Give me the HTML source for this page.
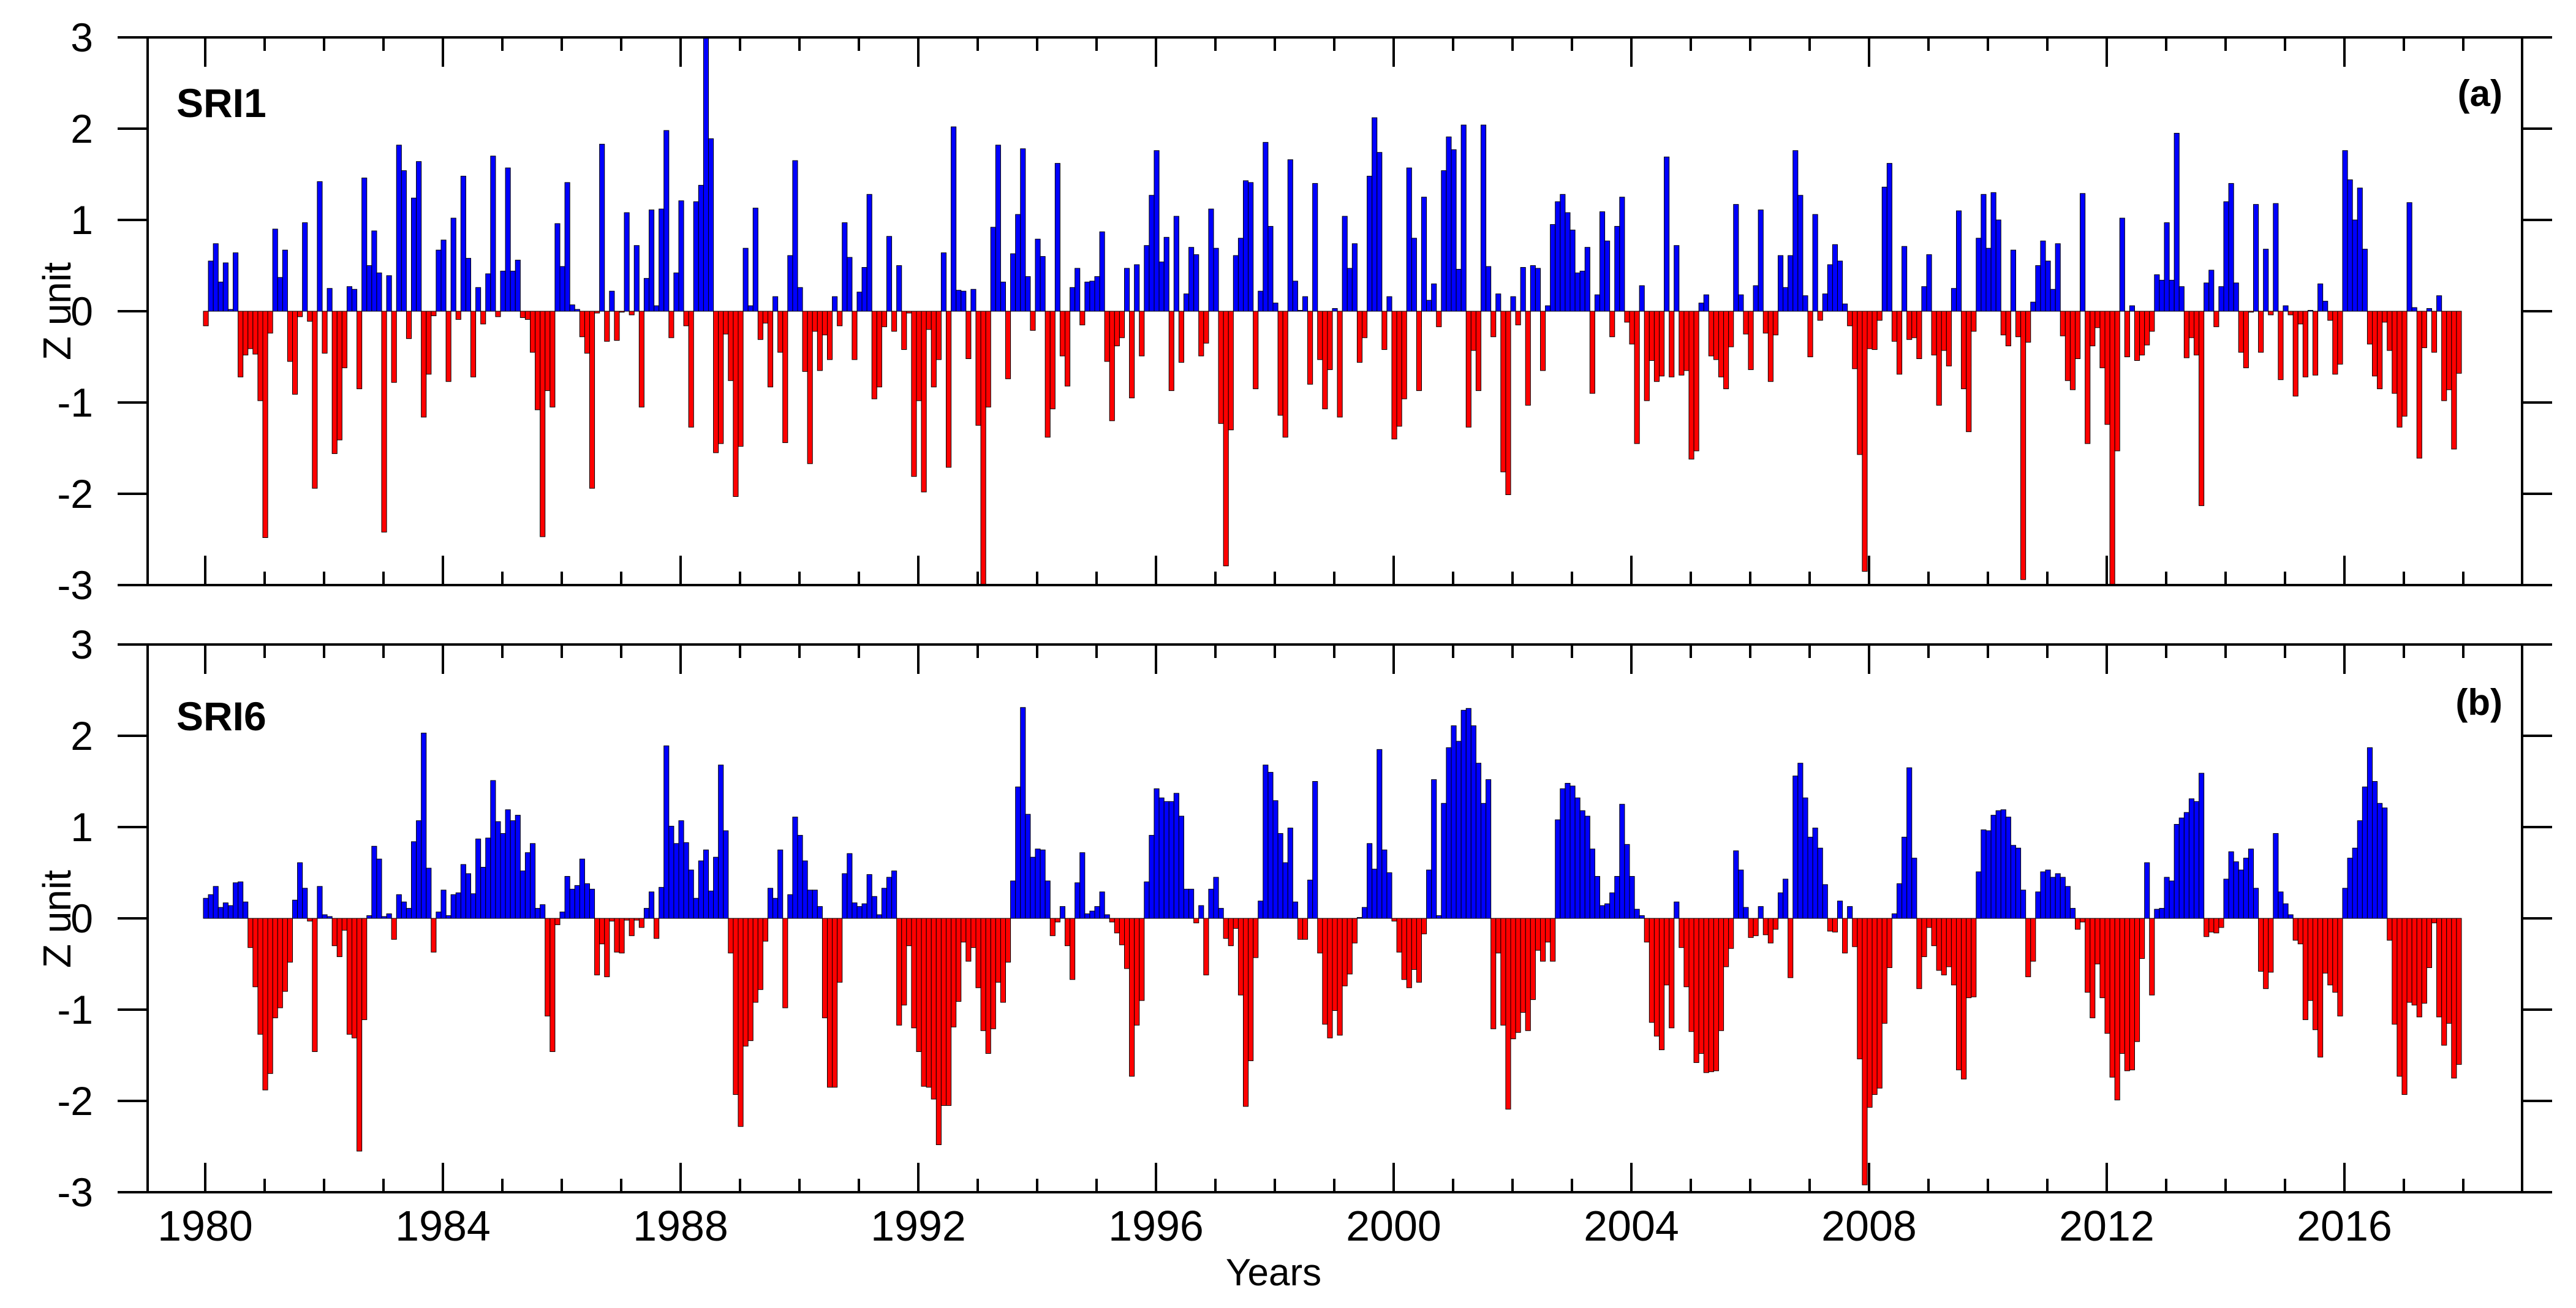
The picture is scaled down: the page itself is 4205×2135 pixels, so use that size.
<!DOCTYPE html>
<html><head><meta charset="utf-8"><style>
html,body{margin:0;padding:0;background:#fff;}
svg{display:block;}
text{font-family:"Liberation Sans",Arial,sans-serif;fill:#000;}
</style></head><body>
<svg id="chart" width="4205" height="2135" viewBox="0 0 4205 2135" xmlns="http://www.w3.org/2000/svg">
<defs>
<clipPath id="clipA"><rect x="241" y="61" width="3876" height="894"/></clipPath>
<clipPath id="clipB"><rect x="241" y="1052" width="3876" height="894"/></clipPath>
</defs>
<g id="panelA"></g>
<g id="panelB"></g>
<text x="288" y="191" font-size="66" font-weight="bold">SRI1</text>
<text x="4085" y="173" font-size="60" font-weight="bold" text-anchor="end">(a)</text>
<text x="288" y="1192" font-size="66" font-weight="bold">SRI6</text>
<text x="4085" y="1167" font-size="60" font-weight="bold" text-anchor="end">(b)</text>
<text x="2079" y="2098" font-size="62" text-anchor="middle">Years</text>
<text x="0" y="0" font-size="64" text-anchor="middle" transform="translate(115,508) rotate(-90)">Z unit</text>
<text x="0" y="0" font-size="64" text-anchor="middle" transform="translate(115,1500) rotate(-90)">Z unit</text>
</svg>
<script>
const startYear = 1980;
const yTicks = [-3,-2,-1,0,1,2,3];
const xTickYears = [1980,1984,1988,1992,1996,2000,2004,2008,2012,2016];
const sri1 = [
-0.16,0.55,0.74,0.32,0.53,0.02,0.64,-0.72,-0.48,-0.41,-0.47,-0.98,
-2.48,-0.24,0.90,0.37,0.67,-0.55,-0.91,-0.06,0.97,-0.11,-1.94,1.42,
-0.46,0.25,-1.56,-1.41,-0.62,0.27,0.24,-0.85,1.46,0.50,0.88,0.42,
-2.42,0.39,-0.78,1.82,1.54,-0.30,1.24,1.64,-1.16,-0.69,-0.05,0.67,
0.78,-0.77,1.02,-0.09,1.48,0.58,-0.72,0.26,-0.14,0.41,1.70,-0.06,
0.44,1.57,0.44,0.56,-0.07,-0.09,-0.45,-1.08,-2.47,-0.87,-1.05,0.96,
0.49,1.41,0.07,0.02,-0.28,-0.46,-1.94,-0.02,1.83,-0.33,0.22,-0.32,
-0.01,1.08,-0.04,0.72,-1.05,0.36,1.11,0.06,1.12,1.98,-0.29,0.42,
1.21,-0.16,-1.27,1.20,1.38,3.1,1.89,-1.55,-1.45,-0.25,-0.76,-2.03,
-1.48,0.69,0.06,1.13,-0.31,-0.13,-0.83,0.16,-0.45,-1.44,0.61,1.65,
0.26,-0.66,-1.67,-0.22,-0.65,-0.26,-0.53,0.16,-0.16,0.97,0.59,-0.53,
0.21,0.48,1.28,-0.96,-0.83,-0.17,0.82,-0.22,0.50,-0.42,-0.02,-1.81,
-0.98,-1.98,-0.20,-0.83,-0.53,0.64,-1.71,2.02,0.23,0.22,-0.52,0.24,
-1.25,-3.1,-1.05,0.92,1.82,0.32,-0.74,0.63,1.06,1.78,0.38,-0.21,
0.79,0.60,-1.38,-1.07,1.62,-0.49,-0.82,0.26,0.47,-0.15,0.32,0.33,
0.38,0.87,-0.55,-1.20,-0.38,-0.29,0.47,-0.95,0.51,-0.49,0.72,1.27,
1.76,0.54,0.81,-0.87,1.04,-0.56,0.19,0.70,0.62,-0.49,-0.35,1.12,
0.69,-1.23,-2.79,-1.30,0.61,0.80,1.43,1.41,-0.85,0.22,1.85,0.93,
0.09,-1.14,-1.38,1.66,0.33,0.01,0.16,-0.80,1.40,-0.53,-1.07,-0.64,
0.03,-1.16,1.04,0.47,0.74,-0.56,-0.29,1.48,2.12,1.74,-0.42,0.16,
-1.40,-1.26,-0.96,1.57,0.80,-0.87,1.25,0.12,0.30,-0.17,1.54,1.91,
1.77,0.46,2.04,-1.27,-0.43,-0.87,2.04,0.49,-0.28,0.19,-1.76,-2.01,
0.16,-0.15,0.48,-1.03,0.50,0.47,-0.65,0.06,0.95,1.20,1.28,1.08,
0.89,0.42,0.44,0.70,-0.90,0.18,1.09,0.77,-0.28,0.93,1.25,-0.12,
-0.36,-1.45,0.28,-0.98,-0.54,-0.77,-0.71,1.69,-0.72,0.72,-0.70,-0.65,
-1.62,-1.53,0.09,0.18,-0.49,-0.53,-0.72,-0.85,-0.39,1.17,0.18,-0.25,
-0.64,0.28,1.11,-0.24,-0.77,-0.26,0.61,0.26,0.61,1.76,1.27,0.17,
-0.50,1.06,-0.10,0.19,0.51,0.73,0.55,0.08,-0.16,-0.63,-1.57,-2.85,
-0.41,-0.42,-0.10,1.36,1.62,-0.33,-0.69,0.71,-0.31,-0.29,-0.52,0.27,
0.62,-0.48,-1.03,-0.43,-0.60,0.25,1.10,-0.85,-1.32,-0.22,0.80,1.28,
0.69,1.30,1.00,-0.26,-0.38,0.67,-0.28,-2.94,-0.34,0.10,0.50,0.77,
0.55,0.24,0.74,-0.27,-0.76,-0.86,-0.52,1.29,-1.45,-0.38,-0.18,-0.62,
-1.24,-3.1,-1.53,1.02,-0.50,0.06,-0.54,-0.48,-0.37,-0.22,0.40,0.34,
0.97,0.34,1.95,0.27,-0.51,-0.29,-0.48,-2.13,0.31,0.45,-0.17,0.27,
1.20,1.40,0.31,-0.45,-0.62,-0.01,1.17,-0.45,0.68,-0.04,1.18,-0.75,
0.06,-0.04,-0.93,-0.14,-0.72,0.01,-0.70,0.30,0.11,-0.10,-0.69,-0.58,
1.76,1.44,1.00,1.35,0.68,-0.36,-0.71,-0.85,-0.12,-0.43,-0.90,-1.27,
-1.15,1.19,0.04,-1.61,-0.40,0.03,-0.45,0.17,-0.98,-0.86,-1.51,-0.68];
const sri6 = [
0.22,0.26,0.35,0.12,0.17,0.14,0.39,0.40,0.18,-0.32,-0.75,-1.27,
-1.88,-1.70,-1.09,-0.98,-0.80,-0.48,0.20,0.61,0.33,-0.03,-1.46,0.35,
0.04,0.02,-0.30,-0.42,-0.13,-1.27,-1.31,-2.55,-1.11,0.03,0.79,0.65,
0.02,0.05,-0.23,0.26,0.18,0.11,0.84,1.07,2.03,0.55,-0.37,0.07,
0.31,0.03,0.26,0.28,0.59,0.49,0.27,0.87,0.56,0.88,1.51,1.06,
0.93,1.19,1.07,1.13,0.52,0.72,0.82,0.11,0.15,-1.07,-1.46,-0.07,
0.07,0.46,0.32,0.36,0.65,0.38,0.32,-0.62,-0.28,-0.64,-0.03,-0.37,
-0.38,-0.02,-0.19,-0.02,-0.10,0.11,0.29,-0.22,0.34,1.89,1.01,0.82,
1.07,0.83,0.53,0.22,0.63,0.75,0.30,0.67,1.68,0.96,-0.38,-1.93,
-2.28,-1.40,-1.34,-0.92,-0.78,-0.25,0.33,0.22,0.75,-0.98,0.26,1.11,
0.91,0.63,0.31,0.31,0.13,-1.09,-1.85,-1.85,-0.70,0.49,0.71,0.17,
0.13,0.16,0.48,0.24,0.04,0.33,0.45,0.52,-1.17,-0.95,-0.30,-1.20,
-1.46,-1.84,-1.85,-1.98,-2.48,-2.05,-2.05,-1.19,-0.91,-0.26,-0.47,-0.32,
-0.76,-1.23,-1.48,-1.21,-0.70,-0.92,-0.48,0.41,1.44,2.31,1.14,0.67,
0.76,0.75,0.41,-0.19,-0.04,0.13,-0.30,-0.67,0.39,0.72,0.05,0.08,
0.13,0.29,0.04,-0.04,-0.16,-0.29,-0.55,-1.73,-1.17,-0.90,0.40,0.91,
1.42,1.32,1.28,1.28,1.37,1.12,0.32,0.32,-0.05,0.14,-0.62,0.32,
0.45,0.11,-0.22,-0.30,-0.11,-0.84,-2.06,-1.56,-0.43,0.19,1.68,1.60,
1.29,0.93,0.61,0.99,0.18,-0.23,-0.23,0.42,1.50,-0.38,-1.16,-1.31,
-1.01,-1.28,-0.74,-0.61,-0.27,0.01,0.12,0.82,0.54,1.85,0.75,0.50,
-0.03,-0.37,-0.67,-0.76,-0.56,-0.70,-0.17,0.53,1.52,0.03,1.26,1.87,
2.11,1.94,2.28,2.30,2.11,1.70,1.26,1.52,-1.21,-0.38,-1.17,-2.09,
-1.32,-1.25,-1.03,-1.23,-0.89,-0.35,-0.47,-0.26,-0.47,1.08,1.42,1.48,
1.45,1.32,1.18,1.12,0.76,0.46,0.14,0.16,0.28,0.46,1.25,0.81,
0.46,0.10,0.03,-0.26,-1.14,-1.29,-1.44,-0.73,-1.20,0.18,-0.32,-0.75,
-1.24,-1.58,-1.48,-1.69,-1.68,-1.67,-1.23,-0.53,-0.33,0.74,0.53,0.12,
-0.21,-0.19,0.13,-0.18,-0.27,-0.12,0.28,0.43,-0.65,1.56,1.70,1.32,
0.89,0.99,0.77,0.37,-0.14,-0.15,0.19,-0.38,0.13,-0.31,-1.54,-2.92,
-2.07,-1.93,-1.86,-1.15,-0.54,0.05,0.38,0.89,1.65,0.66,-0.77,-0.42,
-0.10,-0.30,-0.57,-0.62,-0.53,-0.73,-1.66,-1.76,-0.87,-0.86,0.51,0.97,
0.96,1.13,1.18,1.19,1.11,0.80,0.77,0.31,-0.64,-0.47,0.29,0.51,
0.53,0.45,0.49,0.45,0.35,0.11,-0.12,-0.04,-0.81,-1.09,-0.50,-0.87,
-1.26,-1.74,-1.99,-1.48,-1.67,-1.66,-1.35,-0.44,0.61,-0.84,0.10,0.11,
0.45,0.41,1.03,1.10,1.16,1.31,1.28,1.59,-0.20,-0.15,-0.16,-0.10,
0.43,0.73,0.62,0.53,0.66,0.76,0.33,-0.58,-0.77,-0.59,0.93,0.29,
0.16,0.04,-0.24,-0.28,-1.11,-0.90,-1.22,-1.52,-0.60,-0.73,-0.81,-1.07,
0.33,0.66,0.77,1.07,1.44,1.87,1.50,1.26,1.21,-0.24,-1.16,-1.73,
-1.93,-0.92,-0.95,-1.08,-0.93,-0.54,-0.05,-1.08,-1.39,-1.15,-1.75,-1.60];

const NS = "http://www.w3.org/2000/svg";
const X0 = 335, YEARW = 97, LEFT = 241, RIGHT = 4117, UNIT = 149;
function xScale(t){ return X0 + (t - startYear) * YEARW; }
function mk(tag, attrs, parent){
  const el = document.createElementNS(NS, tag);
  for (const k in attrs) el.setAttribute(k, attrs[k]);
  parent.appendChild(el);
  return el;
}
function drawPanel(g, data, top, clipId, showXLabels, key){
  const zero = top + 3 * UNIT;
  const yScale = v => zero - v * UNIT;
  const bottom = top + 6 * UNIT;
  const bars = mk('g', {'clip-path': 'url(#' + clipId + ')'}, g);
  
  
  const bw = YEARW / 12;
  data.forEach((v, i) => {
    const x = xScale(startYear + i / 12) - 3;
    const y1 = yScale(Math.max(v, 0)), y2 = yScale(Math.min(v, 0));
    const r = mk('rect', {x: x.toFixed(2), y: y1.toFixed(2), width: bw.toFixed(2), height: Math.max(y2 - y1, 0.5).toFixed(2),
      fill: v >= 0 ? '#0000ff' : '#ff0000', stroke: '#000', 'stroke-width': 1}, bars);
    
    
  });
  const ax = mk('g', {stroke: '#000', 'stroke-width': 4, fill: 'none'}, g);
  
  
  const fr = mk('rect', {x: LEFT, y: top, width: RIGHT - LEFT, height: bottom - top}, ax);
  
  
  yTicks.forEach(v => {
    const y = yScale(v);
    mk('line', {x1: LEFT - 49, x2: LEFT, y1: y, y2: y}, ax);
    mk('line', {x1: RIGHT, x2: RIGHT + 49, y1: y, y2: y}, ax);
    const t = mk('text', {x: 152, y: y + 23, 'font-size': 66, 'text-anchor': 'end', stroke: 'none', fill: '#000'}, g);
    t.textContent = String(v);
    
    
  });
  for (let yr = startYear; yr <= startYear + 38; yr++) {
    const x = xScale(yr);
    const len = xTickYears.includes(yr) ? 48 : 22;
    mk('line', {x1: x, x2: x, y1: top, y2: top + len}, ax);
    mk('line', {x1: x, x2: x, y1: bottom, y2: bottom - len}, ax);
  }
  if (showXLabels) {
    xTickYears.forEach(yr => {
      const t = mk('text', {x: xScale(yr), y: 2025, 'font-size': 70, 'text-anchor': 'middle'}, g);
      t.textContent = String(yr);
      
      
    });
  }
}
drawPanel(document.getElementById('panelA'), sri1, 61, 'clipA', false, 'sri1');
drawPanel(document.getElementById('panelB'), sri6, 1052, 'clipB', true, 'sri6');
</script>
</body></html>
